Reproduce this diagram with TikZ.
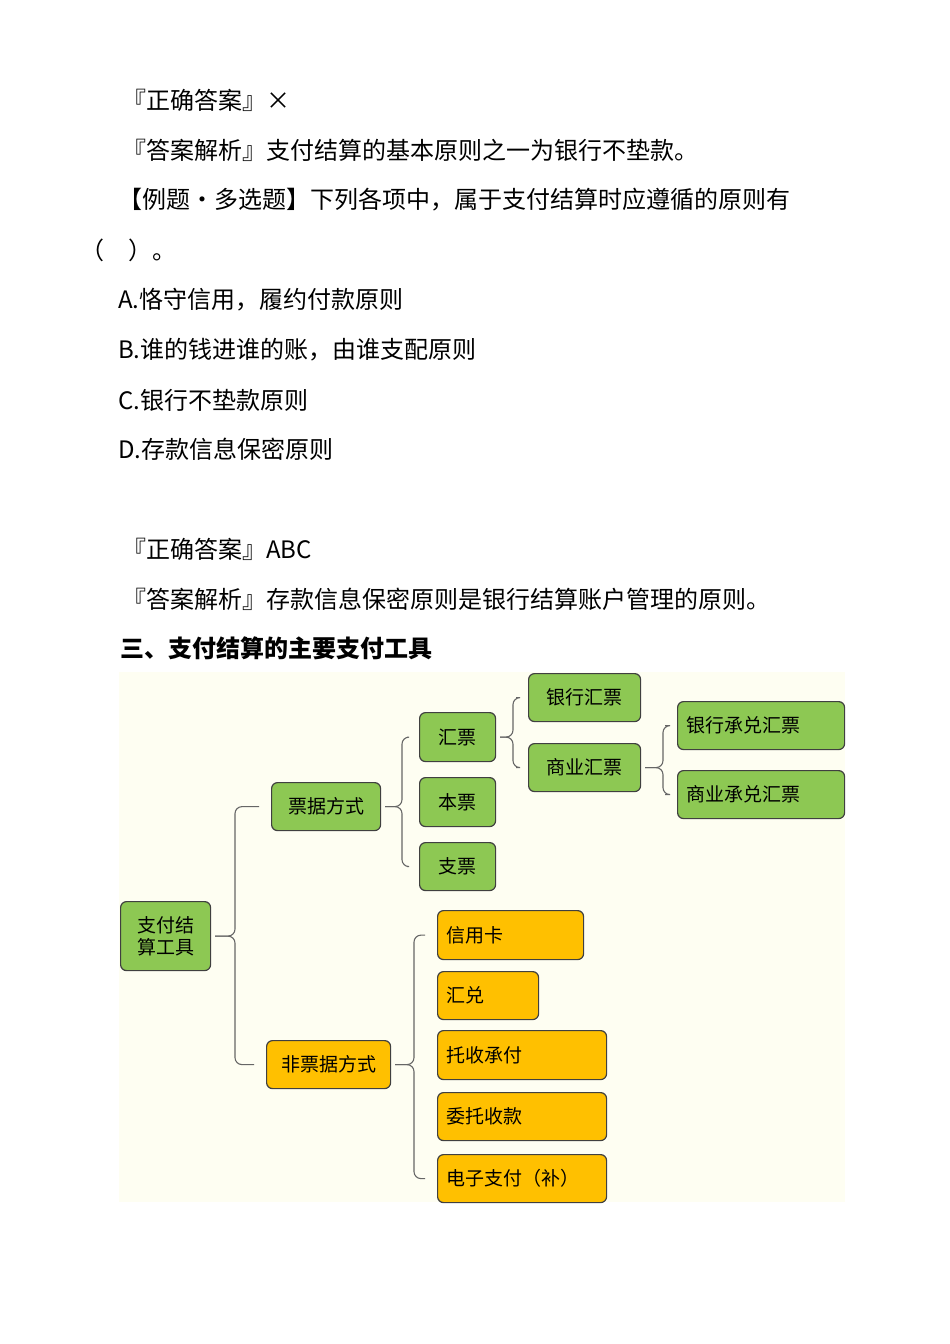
\documentclass[tikz,border=0pt]{standalone}
\usepackage{fontspec}
\setmainfont{Noto Sans CJK SC}
\usetikzlibrary{calc}
\definecolor{gfill}{HTML}{8DC853}
\definecolor{ofill}{HTML}{FFC000}
\definecolor{bgy}{HTML}{FEFEF2}
\tikzset{
 txt/.style={anchor=west,font=\fontsize{24}{26}\selectfont,inner sep=0pt},
 bx/.style={draw=black!75,line width=1.2pt,rounded corners=6pt,anchor=north west,inner sep=0pt,font=\fontsize{19}{21}\selectfont},
 gb/.style={bx,fill=gfill},
 ob/.style={bx,fill=ofill},
 br/.style={draw=black!60,line width=1.1pt,rounded corners=7pt},
}
\newcommand{\bxn}[7]{\node[#1,minimum width=#4pt,minimum height=#5pt,#7] (#2) at (#3) {#6};}
\begin{document}
\begin{tikzpicture}[x=1pt,y=-1pt]
\useasboundingbox (0,0) rectangle (950,1344);
\fill[white] (0,0) rectangle (950,1344);
\node[txt] (l1) at (122,100) {『正确答案』×};
\node[txt] (l2) at (122,150) {『答案解析』支付结算的基本原则之一为银行不垫款。};
\node[txt] (l3) at (118,200) {【例题·多选题】下列各项中，属于支付结算时应遵循的原则有};
\node[txt] (l4) at (80,250) {（　）。};
\node[txt] (l5) at (118,300) {A.恪守信用，履约付款原则};
\node[txt] (l6) at (118,350) {B.谁的钱进谁的账，由谁支配原则};
\node[txt] (l7) at (118,400) {C.银行不垫款原则};
\node[txt] (l8) at (118,449) {D.存款信息保密原则};
\node[txt] (l9) at (122,549) {『正确答案』ABC};
\node[txt] (l10) at (122,599) {『答案解析』存款信息保密原则是银行结算账户管理的原则。};
\node[txt,font=\fontsize{24}{26}\selectfont\bfseries] (h) at (120,648) {三、支付结算的主要支付工具};
\fill[bgy] (119,672) rectangle (845,1202);
\node[gb,minimum width=90pt,minimum height=69pt,align=center,font=\fontsize{19}{22}\selectfont] (root) at (120,901) {支付结\\算工具};
\node[gb,minimum width=109pt,minimum height=48pt] (pj) at (271,782) {票据方式};
\node[ob,minimum width=124pt,minimum height=48pt] (fpj) at (266,1040) {非票据方式};
\node[gb,minimum width=76pt,minimum height=49pt] (hp) at (419,712) {汇票};
\node[gb,minimum width=76pt,minimum height=49pt] (bp) at (419,777) {本票};
\node[gb,minimum width=76pt,minimum height=48pt] (zp) at (419,842) {支票};
\node[gb,minimum width=112pt,minimum height=48pt] (yh) at (528,673) {银行汇票};
\node[gb,minimum width=112pt,minimum height=48pt] (sh) at (528,743) {商业汇票};
\node[gb,minimum width=167pt,minimum height=48pt,align=left,text width=150pt] (yc) at (677,701) {银行承兑汇票};
\node[gb,minimum width=167pt,minimum height=48pt,align=left,text width=150pt] (sc) at (677,770) {商业承兑汇票};
\node[ob,minimum width=146pt,minimum height=49pt,align=left,text width=129pt] (xyk) at (437,910) {信用卡};
\node[ob,minimum width=101pt,minimum height=48pt,align=left,text width=84pt] (hd) at (437,971) {汇兑};
\node[ob,minimum width=169pt,minimum height=49pt,align=left,text width=152pt] (tscf) at (437,1030) {托收承付};
\node[ob,minimum width=169pt,minimum height=48pt,align=left,text width=152pt] (wtsk) at (437,1092) {委托收款};
\node[ob,minimum width=169pt,minimum height=48pt,align=left,text width=152pt] (dz) at (437,1154) {电子支付（补）};
% braces
\foreach \p/\a/\b/\bx in {root/pj/fpj/235, pj/hp/zp/402, hp/yh/sh/513, sh/yc/sc/663, fpj/xyk/dz/414}{
  \path (\p.east) coordinate (pe) (\a.west) coordinate (aw) (\b.west) coordinate (bw);
  \draw[br] ($(aw)+(-12,0)$) -- (\bx,0 |- aw) -- (\bx,0 |- pe) -- ($(pe)+(4,0)$);
  \draw[br] ($(bw)+(-12,0)$) -- (\bx,0 |- bw) -- (\bx,0 |- pe) -- ($(pe)+(4,0)$);
}
\end{tikzpicture}
\end{document}
